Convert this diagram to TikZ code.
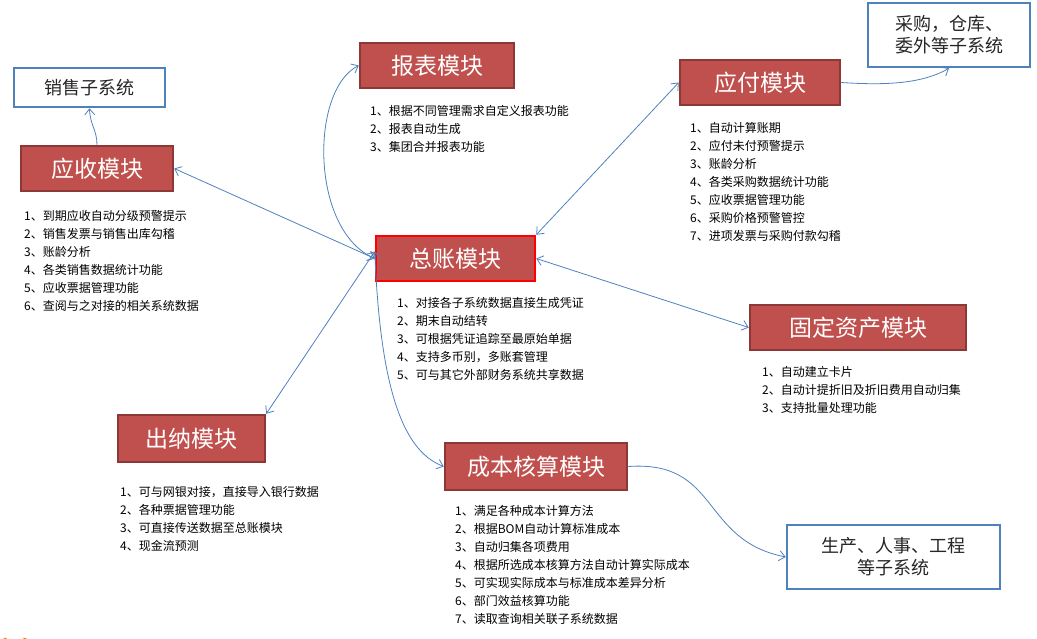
\documentclass[tikz,border=0pt]{standalone}
\usepackage{fontspec}
\setmainfont{Noto Sans CJK SC}
\usetikzlibrary{arrows.meta}
\definecolor{boxred}{HTML}{C0504D}
\definecolor{boxedge}{HTML}{8C3836}
\definecolor{lineblue}{HTML}{4F81BD}
\begin{document}
\begin{tikzpicture}[x=1pt,y=-1pt,
  mod/.style={draw=boxedge,line width=2.5pt,fill=boxred,text=white,font=\fontsize{23}{26}\selectfont,inner sep=0pt},
  sub/.style={draw=lineblue,line width=2.5pt,fill=white,text=black!85,font=\fontsize{18}{22}\selectfont,inner sep=0pt,align=center},
  lst/.style={anchor=north west,align=left,font=\fontsize{12}{18}\selectfont,inner sep=0pt},
  con/.style={draw=lineblue,line width=0.8pt,{Straight Barb[length=6pt,width=10pt]}-{Straight Barb[length=6pt,width=10pt]}},
  con1/.style={draw=lineblue,line width=0.8pt,-{Straight Barb[length=6pt,width=10pt]}}]
\useasboundingbox (0,0) rectangle (1037,638);
\node[sub,minimum width=151,minimum height=39] (xs) at (89.5,87.5) {销售子系统};
\node[mod,minimum width=152,minimum height=45] (ys) at (97,168.5) {应收模块};
\node[mod,minimum width=154,minimum height=45] (bb) at (437,65.5) {报表模块};
\node[mod,minimum width=160,minimum height=45] (yf) at (760,82.5) {应付模块};
\node[sub,minimum width=162,minimum height=64] (cg) at (949,35) {采购，仓库、\\委外等子系统};
\node[mod,draw=red,minimum width=159,minimum height=45] (zz) at (455.5,258.5) {总账模块};
\node[mod,minimum width=216,minimum height=45] (gd) at (858,327.5) {固定资产模块};
\node[mod,minimum width=147,minimum height=47] (cn) at (191.5,438.5) {出纳模块};
\node[mod,minimum width=182,minimum height=47] (cb) at (536,466.5) {成本核算模块};
\node[sub,minimum width=213,minimum height=64] (sc) at (893.5,557) {生产、人事、工程\\等子系统};

\node[lst] (l1) at (24,210) {1、到期应收自动分级预警提示\\2、销售发票与销售出库勾稽\\3、账龄分析\\4、各类销售数据统计功能\\5、应收票据管理功能\\6、查阅与之对接的相关系统数据};
\node[lst] (l2) at (370,105) {1、根据不同管理需求自定义报表功能\\2、报表自动生成\\3、集团合并报表功能};
\node[lst] (l3) at (690,122) {1、自动计算账期\\2、应付未付预警提示\\3、账龄分析\\4、各类采购数据统计功能\\5、应收票据管理功能\\6、采购价格预警管控\\7、进项发票与采购付款勾稽};
\node[lst] (l4) at (397,297) {1、对接各子系统数据直接生成凭证\\2、期末自动结转\\3、可根据凭证追踪至最原始单据\\4、支持多币别，多账套管理\\5、可与其它外部财务系统共享数据};
\node[lst] (l5) at (762,366) {1、自动建立卡片\\2、自动计提折旧及折旧费用自动归集\\3、支持批量处理功能};
\node[lst] (l6) at (120,486) {1、可与网银对接，直接导入银行数据\\2、各种票据管理功能\\3、可直接传送数据至总账模块\\4、现金流预测};
\node[lst] (l7) at (455,505) {1、满足各种成本计算方法\\2、根据BOM自动计算标准成本\\3、自动归集各项费用\\4、根据所选成本核算方法自动计算实际成本\\5、可实现实际成本与标准成本差异分析\\6、部门效益核算功能\\7、读取查询相关联子系统数据};

\draw[con1] (ys.north) .. controls (97,130) and (90,125) .. (xs.south);
\draw[con] (ys.east) -- (zz.west);
\draw[con] (bb.west) .. controls (310,90) and (310,230) .. (zz.west);
\draw[con] (yf.west) -- (zz.north east);
\draw[con1] (yf.east) .. controls (880,85) and (920,85) .. (cg.south);
\draw[con] (zz.east) -- (gd.west);
\draw[con] (cn.north east) -- ([yshift=7]zz.west);
\draw[con] ([yshift=7]zz.west) .. controls (380,380) and (400,450) .. (cb.west);
\draw[con1] (cb.east) .. controls (720,460) and (700,540) .. (sc.west);
\draw[orange,line width=3pt] (25,638) arc (0:180:10);
\end{tikzpicture}
\end{document}
